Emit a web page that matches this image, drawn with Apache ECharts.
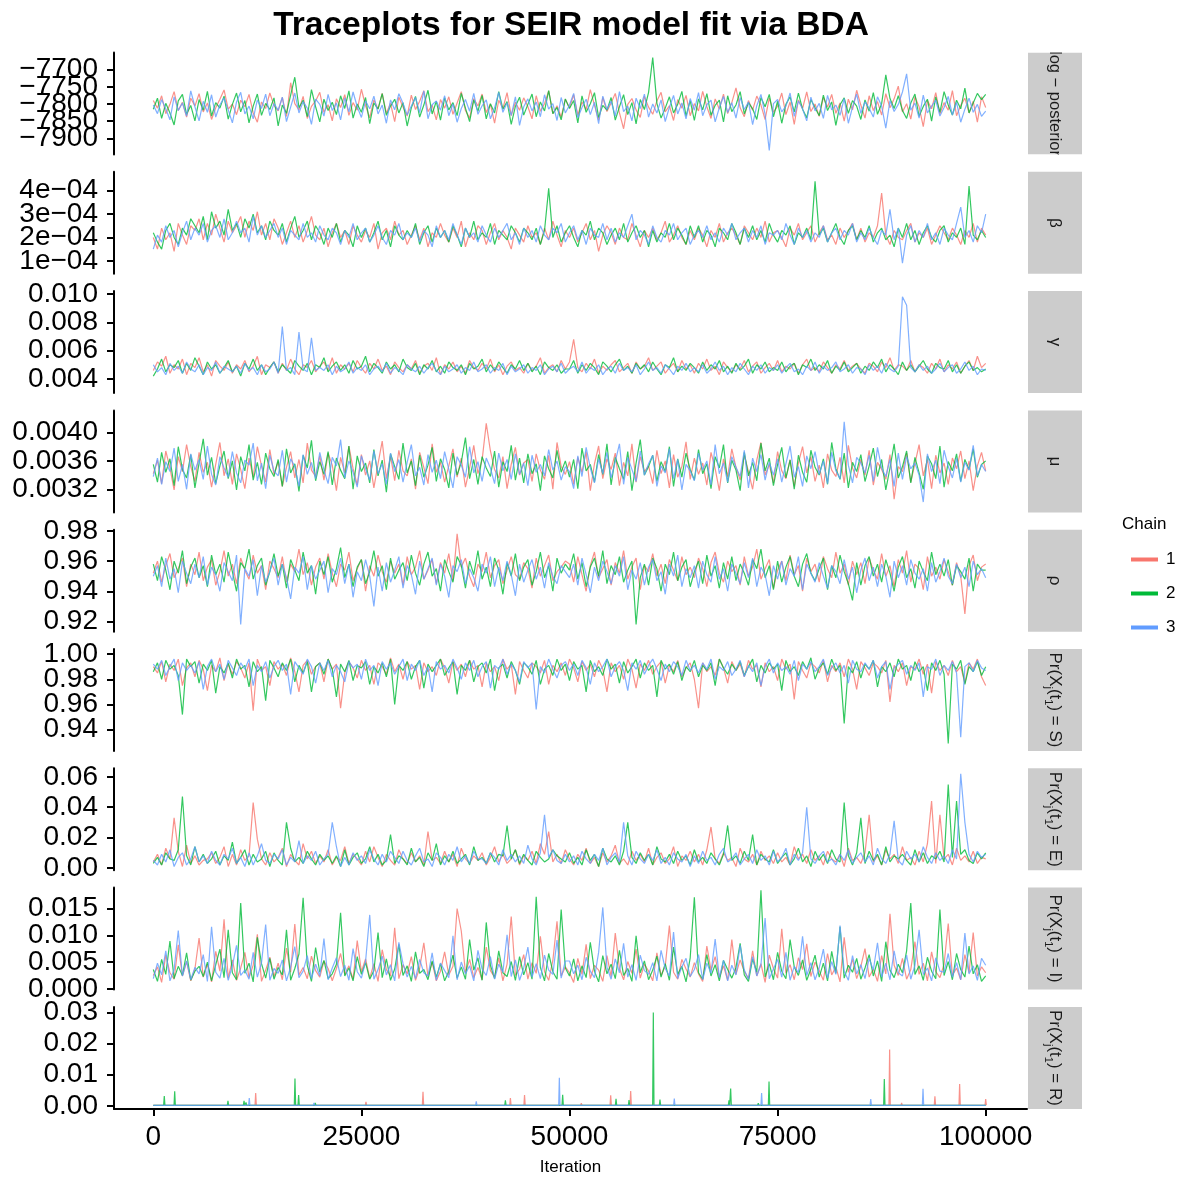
<!DOCTYPE html>
<html><head><meta charset="utf-8">
<script src="https://cdn.jsdelivr.net/npm/echarts@6/dist/echarts.min.js"></script>
<style>html,body{margin:0;padding:0;background:#fff}#c{width:1179px;height:1180px}</style>
</head><body><div id="c"></div>
<script>
// ---------- data ----------
const iterStep = 500;                // one stored draw every 500 iterations (201 draws per chain)
const xTicks = [0, 25000, 50000, 75000, 100000];
const chainNames = ['1', '2', '3'];
const chainColors = ['#F8766D', '#00BA38', '#619CFF'];

// log-posterior
const lp1 = [-7790,-7812,-7776,-7828,-7801,-7764,-7819,-7795,-7838,-7783,
-7806,-7770,-7823,-7797,-7845,-7811,-7786,-7759,-7815,-7800,
-7831,-7789,-7808,-7772,-7826,-7853,-7794,-7813,-7768,-7804,
-7820,-7781,-7836,-7738,-7799,-7817,-7778,-7842,-7807,-7791,
-7766,-7824,-7802,-7849,-7785,-7810,-7773,-7833,-7796,-7818,
-7757,-7805,-7840,-7788,-7814,-7769,-7827,-7798,-7851,-7780,
-7809,-7835,-7774,-7816,-7792,-7761,-7822,-7803,-7846,-7787,
-7812,-7779,-7830,-7797,-7764,-7819,-7841,-7784,-7806,-7771,
-7825,-7800,-7856,-7789,-7813,-7767,-7834,-7795,-7818,-7782,
-7808,-7843,-7776,-7821,-7799,-7762,-7828,-7805,-7838,-7786,
-7811,-7773,-7832,-7794,-7816,-7758,-7803,-7847,-7781,-7822,
-7797,-7769,-7826,-7872,-7801,-7784,-7817,-7839,-7778,-7809,
-7830,-7791,-7766,-7823,-7805,-7848,-7787,-7812,-7775,-7834,
-7799,-7820,-7763,-7808,-7842,-7785,-7815,-7771,-7828,-7796,
-7753,-7811,-7837,-7790,-7818,-7777,-7803,-7845,-7782,-7824,
-7806,-7768,-7831,-7794,-7859,-7788,-7813,-7765,-7822,-7800,
-7836,-7781,-7809,-7772,-7827,-7797,-7850,-7786,-7817,-7760,
-7803,-7841,-7776,-7819,-7793,-7832,-7770,-7811,-7785,-7748,
-7823,-7799,-7844,-7779,-7808,-7866,-7790,-7814,-7767,-7829,
-7796,-7818,-7761,-7834,-7804,-7783,-7826,-7792,-7853,-7779,-7810];
const lp2 = [-7815,-7783,-7842,-7798,-7826,-7861,-7791,-7772,-7830,-7804,
-7849,-7787,-7818,-7763,-7835,-7796,-7812,-7777,-7844,-7801,
-7768,-7823,-7790,-7855,-7806,-7771,-7833,-7798,-7816,-7782,
-7864,-7803,-7827,-7774,-7722,-7811,-7789,-7837,-7758,-7808,
-7852,-7786,-7819,-7795,-7831,-7776,-7813,-7762,-7841,-7800,
-7824,-7781,-7857,-7797,-7815,-7770,-7833,-7806,-7786,-7826,
-7796,-7864,-7811,-7778,-7838,-7803,-7760,-7829,-7792,-7847,
-7782,-7817,-7796,-7834,-7769,-7812,-7851,-7788,-7821,-7775,
-7843,-7799,-7826,-7764,-7815,-7793,-7859,-7807,-7780,-7832,
-7801,-7771,-7837,-7794,-7820,-7761,-7828,-7810,-7846,-7785,
-7813,-7790,-7855,-7776,-7824,-7799,-7767,-7839,-7804,-7818,
-7781,-7847,-7808,-7773,-7831,-7796,-7858,-7787,-7816,-7766,
-7665,-7798,-7841,-7812,-7779,-7826,-7801,-7763,-7835,-7790,
-7848,-7785,-7817,-7770,-7833,-7804,-7789,-7852,-7776,-7822,
-7803,-7764,-7829,-7796,-7814,-7845,-7781,-7808,-7772,-7837,
-7792,-7856,-7801,-7779,-7823,-7768,-7815,-7840,-7787,-7811,
-7834,-7774,-7819,-7794,-7862,-7802,-7782,-7827,-7790,-7806,
-7845,-7788,-7821,-7767,-7830,-7799,-7715,-7784,-7813,-7776,
-7819,-7842,-7797,-7771,-7836,-7807,-7786,-7850,-7779,-7824,
-7764,-7803,-7832,-7789,-7814,-7754,-7826,-7797,-7769,-7787,-7772];
const lp3 = [-7803,-7828,-7787,-7814,-7846,-7779,-7819,-7797,-7835,-7762,
-7808,-7849,-7792,-7824,-7773,-7838,-7802,-7783,-7817,-7855,
-7794,-7766,-7829,-7806,-7843,-7788,-7813,-7771,-7834,-7799,
-7818,-7780,-7851,-7809,-7768,-7826,-7793,-7812,-7859,-7786,
-7801,-7835,-7772,-7819,-7797,-7846,-7782,-7823,-7765,-7808,
-7839,-7791,-7814,-7777,-7829,-7803,-7856,-7788,-7817,-7770,
-7798,-7832,-7806,-7781,-7825,-7762,-7843,-7802,-7791,-7818,
-7776,-7834,-7800,-7853,-7813,-7787,-7821,-7769,-7830,-7805,
-7788,-7843,-7811,-7766,-7824,-7796,-7833,-7779,-7862,-7808,
-7785,-7820,-7794,-7837,-7773,-7815,-7799,-7848,-7781,-7826,
-7803,-7769,-7840,-7810,-7786,-7831,-7795,-7857,-7777,-7816,
-7792,-7835,-7764,-7822,-7806,-7849,-7783,-7813,-7771,-7838,
-7800,-7826,-7788,-7851,-7810,-7775,-7829,-7797,-7843,-7784,
-7818,-7767,-7834,-7802,-7789,-7852,-7811,-7778,-7825,-7796,
-7841,-7781,-7816,-7794,-7860,-7805,-7772,-7830,-7935,-7799,
-7787,-7823,-7806,-7768,-7836,-7791,-7814,-7849,-7780,-7820,
-7798,-7842,-7775,-7817,-7803,-7833,-7784,-7856,-7809,-7771,
-7827,-7794,-7812,-7838,-7779,-7806,-7870,-7790,-7822,-7801,
-7765,-7712,-7818,-7797,-7841,-7774,-7826,-7806,-7789,-7835,
-7810,-7778,-7832,-7795,-7853,-7815,-7783,-7824,-7801,-7836,-7821];

// beta, in units of 1e-5
const beta1 = [20,15,24,19,22,14,26,21,17,25, 23,28,19,26,21,30,24,18,27,22,
25,29,20,27,23,31,21,26,19,28, 24,17,22,27,20,25,18,23,29,21,
19,24,16,22,26,20,23,17,25,21, 18,23,20,26,15,22,24,19,27,21,
23,17,21,25,19,24,16,22,20,26, 21,18,24,20,27,16,22,19,25,23,
17,22,26,19,23,20,15,24,21,18, 25,20,22,17,24,19,27,21,16,23,
20,24,18,22,26,19,23,14,21,25, 22,17,24,20,19,26,21,16,23,20,
24,19,22,27,18,21,25,20,17,23, 19,24,21,16,23,20,26,18,22,24,
21,17,25,22,19,24,20,27,18,22, 23,20,16,24,21,26,19,22,25,18,
22,25,19,21,17,24,20,23,26,19, 24,18,22,20,25,39,21,17,23,20,
19,23,26,18,22,20,24,17,21,25, 22,19,24,21,17,23,20,26,18,24, 21];
const beta2 = [22,18,15,23,26,20,17,24,21,28, 25,22,29,19,31,24,27,21,32,23,
26,20,28,24,30,22,25,19,27,23, 21,26,18,24,29,20,23,27,19,25,
22,17,24,20,26,18,23,21,16,25, 20,24,18,22,27,19,23,16,25,21,
19,23,20,26,17,22,25,18,24,20, 23,18,25,21,16,24,20,27,19,22,
20,26,17,23,21,19,25,22,18,24, 22,19,24,17,23,41,20,25,18,22,
25,20,16,23,21,27,19,24,22,17, 21,24,19,26,18,22,25,20,23,16,
23,18,22,20,26,19,24,21,17,25, 20,25,18,23,21,16,24,22,19,26,
22,17,24,20,25,19,23,18,26,21, 18,23,21,25,17,22,20,24,19,44,
21,24,18,22,26,20,17,23,25,19, 23,20,25,18,22,24,19,21,16,24,
20,26,19,23,17,22,25,20,18,23, 25,18,22,20,24,17,42,21,19,23, 20];
const beta3 = [15,21,18,25,20,23,16,22,27,19, 24,21,26,18,23,25,20,28,19,22,
27,22,24,18,29,21,25,20,23,26, 20,24,17,23,21,19,26,20,22,18,
25,21,19,24,22,17,23,20,26,19, 22,24,18,21,25,20,17,23,21,26,
19,22,20,24,18,23,21,16,25,20, 23,19,26,21,17,24,20,22,18,25,
21,18,24,20,23,26,19,22,17,24, 20,23,18,25,21,19,24,22,26,18,
22,25,19,23,17,24,21,20,26,19, 24,18,22,20,25,30,19,23,21,17,
25,20,18,23,21,26,19,22,24,17, 21,23,20,25,19,22,18,24,21,26,
19,22,24,18,23,20,25,17,22,21, 23,19,26,21,17,24,20,23,18,22,
20,25,18,22,24,19,23,21,26,18, 22,19,24,20,17,23,21,32,19,24,
9,21,25,18,23,20,26,19,22,17, 24,21,19,26,33,20,23,18,25,22, 30];

// gamma, in units of 1e-4
const gamma1 = [46,52,49,56,44,50,47,54,43,51, 48,55,45,50,42,53,49,46,52,44,
50,47,53,45,49,56,43,50,48,52, 44,51,46,54,47,43,50,48,53,45,
49,52,46,55,44,50,47,51,45,53, 48,44,51,47,54,46,49,43,52,48,
45,50,47,53,44,49,51,46,55,43, 50,47,52,45,49,44,53,48,46,51,
47,54,45,50,43,49,52,46,48,44, 51,46,49,55,44,48,50,45,53,47,
52,68,48,45,51,47,54,44,49,46, 50,53,45,48,51,44,52,47,49,55,
46,49,52,44,48,51,45,53,47,50, 44,51,47,54,46,49,43,52,48,45,
50,47,53,45,49,52,44,48,51,46, 53,45,49,47,51,44,50,54,46,48,
45,52,48,44,50,47,53,46,49,51, 47,44,51,49,45,52,48,55,46,50,
49,46,53,45,50,48,44,51,47,54, 45,50,47,52,44,49,53,46,56,48, 51];
const gamma2 = [42,47,54,45,50,48,53,44,51,46, 55,49,43,52,47,50,44,48,53,45,
49,42,51,47,54,46,50,43,48,52, 45,50,47,44,53,49,46,51,43,50,
48,55,45,49,52,46,50,44,53,47, 49,56,45,51,48,44,52,47,50,45,
54,48,46,51,43,50,47,53,45,49, 44,52,48,46,50,43,51,47,49,54,
45,50,46,52,48,44,50,47,53,46, 51,45,49,43,52,48,46,50,44,47,
47,53,44,50,46,51,48,43,52,49, 45,50,54,46,49,44,51,47,50,45,
52,47,43,50,48,55,45,49,46,51, 48,44,52,46,50,47,53,45,49,44,
51,46,49,54,44,50,47,52,45,48, 46,52,45,49,51,43,50,48,54,46,
50,47,53,44,49,46,52,45,48,51, 44,49,46,52,48,54,45,50,47,43,
52,46,50,45,49,53,47,44,51,48, 47,53,45,50,44,49,52,46,48,45, 47];
const gamma3 = [50,45,48,43,51,46,49,44,52,47, 45,50,43,48,46,52,44,49,47,45,
49,44,51,46,48,43,50,45,47,52, 44,77,46,48,43,73,47,45,69,46,
48,46,50,43,49,45,47,52,44,48, 46,50,43,47,49,45,51,44,48,46,
43,50,47,45,49,44,48,51,46,43, 49,45,47,50,44,48,46,52,45,47,
50,44,48,46,51,43,49,45,47,50, 44,48,46,50,43,47,49,45,51,44,
47,49,45,52,44,48,46,50,43,47, 49,44,51,46,48,45,50,43,47,52,
46,48,44,50,47,43,49,46,51,45, 48,45,50,44,47,52,46,49,43,48,
45,51,47,43,49,46,50,44,48,46, 50,44,48,51,45,47,43,49,46,52,
44,49,46,48,52,45,47,50,44,48, 47,43,50,46,49,44,51,47,45,49,
98,92,48,45,50,46,49,44,47,51, 45,48,50,44,47,52,46,49,43,47, 46];

// mu, in units of 1e-5
const mu1 = [342,361,328,374,350,319,366,345,383,352, 331,372,344,358,323,355,386,339,363,327,
370,348,321,364,337,380,353,330,376,341, 359,324,351,373,336,362,329,385,347,338,
367,333,371,354,318,365,343,381,349,326, 369,340,360,322,356,388,335,367,332,375,
346,339,363,320,372,351,328,384,344,358, 330,353,377,337,364,323,350,382,342,361,
413,374,348,336,366,321,355,379,340,357, 362,331,370,347,334,368,320,386,352,341,
359,327,365,344,373,318,356,381,335,363, 348,371,325,358,339,384,330,366,345,353,
328,375,342,360,322,369,337,352,387,334, 364,341,357,326,372,349,318,363,338,377,
351,333,368,345,320,361,386,340,355,329, 373,346,335,362,324,357,380,343,366,331,
354,322,370,347,338,365,329,382,350,336, 362,340,375,326,358,348,334,369,306,352,
345,371,330,356,383,339,362,321,368,343, 357,327,364,349,374,335,360,318,353,372, 346];
const mu2 = [355,330,372,344,363,325,380,348,336,369, 322,357,391,340,365,328,353,374,335,360,
319,366,346,383,333,358,327,371,349,338, 362,324,377,343,356,317,368,350,389,332,
359,341,373,326,364,347,335,381,320,367, 345,357,329,376,339,361,316,370,352,334,
385,343,360,325,368,337,354,379,331,363, 348,322,371,340,358,393,335,362,327,366,
350,338,374,323,359,345,382,333,364,329, 370,342,356,318,367,349,336,375,344,360,
337,362,321,378,346,355,330,369,341,384, 326,365,349,334,373,318,357,390,340,352,
368,331,359,345,380,324,363,337,371,348, 333,376,342,356,321,366,350,383,329,361,
347,318,372,339,358,332,385,346,364,325, 355,379,336,361,320,368,344,330,375,351,
340,363,327,386,349,334,371,322,358,345, 369,331,353,378,338,362,319,350,384,336,
352,374,329,365,343,320,367,356,335,381, 323,359,346,370,331,362,348,377,337,355, 360];
const mu3 = [338,364,327,359,345,378,331,355,320,370, 347,362,334,381,341,326,366,350,337,373,
343,329,361,354,385,332,357,321,368,346, 339,375,330,363,352,324,369,341,358,335,
372,347,328,365,353,390,336,360,344,323, 367,349,333,374,342,356,327,371,345,362,
330,358,383,339,351,326,369,344,361,335, 373,348,322,366,354,337,380,343,359,331,
364,350,328,371,346,362,334,370,341,357, 325,368,344,355,339,376,347,360,333,352,
345,321,367,338,379,350,329,363,342,372, 336,359,384,327,365,348,331,374,340,356,
368,324,353,343,377,335,362,319,355,346, 332,371,347,360,326,383,342,357,330,366,
351,338,375,322,364,345,369,333,358,340, 363,330,356,381,337,352,324,367,349,373,
341,360,328,372,346,335,415,354,329,365, 357,343,368,331,379,350,338,362,324,371,
334,366,349,357,340,302,370,345,361,328, 375,352,336,364,330,358,347,382,339,355, 345];

// rho, in units of 1e-3
const rho1 = [952,960,946,957,965,949,955,962,943,958, 951,966,947,956,961,944,953,967,950,958,
945,962,954,948,964,952,957,941,960,955, 949,963,946,958,953,968,951,959,944,956,
962,948,965,952,943,958,954,966,947,955, 961,940,957,950,964,953,946,960,952,958,
944,963,951,956,967,948,954,961,945,959, 952,965,947,978,956,962,950,943,958,953,
966,949,957,961,945,954,963,951,948,959, 955,942,962,950,957,964,947,953,956,960,
958,946,963,951,940,957,966,949,955,961, 944,959,952,967,948,956,962,941,957,953,
965,950,958,945,961,954,947,963,951,956, 949,962,955,943,959,966,952,946,960,953,
957,944,963,950,956,968,948,955,961,942, 954,960,947,964,951,957,940,962,953,958,
946,963,955,949,966,952,958,944,960,951, 959,945,962,954,948,965,950,957,943,961,
952,967,946,958,955,941,963,950,956,948, 961,953,944,959,950,925,957,964,947,956, 958];
const rho2 = [958,947,963,954,941,960,952,967,945,956, 962,949,957,943,964,951,958,946,966,953,
940,959,955,968,948,957,962,944,953,965, 950,958,942,961,954,947,966,952,957,938,
960,951,963,946,955,969,949,958,943,956, 961,945,953,967,950,957,941,962,948,954,
959,947,964,952,944,958,966,950,955,940, 961,953,946,963,957,942,960,951,967,948,
956,943,962,954,938,959,950,965,947,956, 961,944,953,966,949,957,940,962,952,958,
954,965,948,959,943,956,962,950,967,945, 957,951,963,946,954,960,918,949,958,944,
962,955,940,958,951,966,947,956,961,943, 953,960,945,964,950,957,942,959,948,963,
947,958,952,944,961,955,968,949,957,941, 960,946,956,963,950,943,958,965,952,947,
955,962,941,957,949,964,953,945,934,959, 944,957,963,950,958,946,961,952,940,956,
963,949,955,942,960,953,947,966,951,958, 950,961,944,957,953,948,962,940,958,954, 954];
const rho3 = [950,957,943,962,948,955,939,960,952,945, 958,949,963,944,956,951,940,959,953,947,
964,918,955,950,961,937,957,946,953,962, 944,958,949,935,956,952,963,941,957,948,
954,960,939,955,951,962,945,958,936,953, 947,961,950,930,956,940,959,946,954,963,
942,957,951,938,960,948,955,962,944,958, 950,936,957,953,961,945,955,949,940,958,
952,963,943,956,947,960,951,937,958,946, 954,961,948,956,942,959,950,945,957,953,
949,958,944,962,951,939,956,947,960,953, 945,957,950,963,941,954,948,959,944,956,
961,947,953,938,958,950,964,943,955,949, 957,942,960,951,946,963,948,955,940,958,
952,945,959,949,962,943,956,951,937,957, 948,960,944,955,950,963,941,958,952,946,
959,950,942,957,953,945,961,948,956,939, 954,962,947,956,943,958,950,936,960,949,
957,944,961,952,948,955,940,959,946,953, 962,950,945,958,949,956,943,960,951,955, 949];

// Pr(X_j(t_1) = S), in units of 1e-3
const prS1 = [990,985,994,978,992,987,996,975,989,993, 982,995,988,971,991,986,997,979,992,984,
994,989,981,993,955,996,987,990,975,994, 988,992,983,997,986,970,991,995,984,990,
993,978,996,988,992,957,985,994,989,981, 995,987,991,976,993,990,984,997,986,992,
980,994,988,991,972,993,986,990,983,996, 989,977,994,987,992,982,995,988,991,974,
993,986,990,979,996,988,992,968,994,987, 981,993,990,985,995,976,991,986,993,983,
996,989,978,994,987,992,982,995,988,970, 993,986,991,980,996,988,973,992,987,995,
984,990,994,977,991,986,995,982,989,993, 980,957,993,986,990,983,996,989,977,994,
987,992,982,995,988,991,974,993,986,990, 979,996,988,992,964,994,987,981,993,990,
985,995,978,991,986,993,982,996,988,972, 994,989,983,993,990,985,995,962,991,986,
993,975,990,988,996,984,992,969,994,987, 991,983,995,986,990,977,993,988,996,982, 975];
const prS2 = [986,993,980,995,988,991,983,952,996,990, 994,977,992,987,995,969,990,985,993,981,
996,988,991,974,994,986,990,963,995,989, 982,993,987,996,978,991,985,994,970,990,
993,984,996,988,966,992,986,995,979,991, 989,994,976,990,985,993,982,996,960,991,
987,994,980,990,995,973,992,986,991,996, 983,989,994,968,991,987,995,978,990,993,
985,996,971,989,992,981,994,987,976,993, 990,984,995,976,988,991,983,996,987,992,
979,994,988,991,970,995,986,990,983,996, 988,992,977,994,985,990,996,981,993,987,
991,966,995,988,992,984,994,979,990,986, 995,982,991,987,993,975,996,989,984,992,
987,994,983,990,996,978,991,985,993,988, 992,971,995,986,990,983,994,988,997,980,
989,993,984,996,987,991,945,990,985,994, 981,992,988,995,974,990,986,993,982,996,
988,991,979,994,986,990,971,993,987,995, 984,929,992,988,995,976,990,986,994,983, 990];
const prS3 = [992,988,995,983,990,996,979,993,987,991, 985,994,972,990,996,986,992,980,995,989,
983,993,988,996,975,991,986,994,981,990, 995,987,992,968,994,989,984,996,990,977,
993,987,995,982,991,986,978,994,989,992, 980,996,987,991,975,994,988,993,984,990,
996,979,992,987,995,983,990,970,994,988, 991,985,996,989,980,993,987,995,982,990,
994,973,991,988,996,984,992,987,978,994, 989,993,956,990,985,996,988,981,991,994,
987,992,983,995,989,976,993,986,990,996, 982,990,994,987,971,993,988,995,984,991,
996,988,979,992,986,994,990,983,995,987, 991,985,993,988,996,980,990,987,994,983,
988,995,982,991,986,993,975,990,996,985, 993,987,990,984,995,979,992,988,994,986,
990,996,983,989,993,985,991,977,995,988, 986,993,988,995,981,990,994,972,989,992,
995,984,991,987,993,966,990,988,996,983, 991,987,994,985,934,990,993,986,995,989, 987];

// Pr(X_j(t_1) = E), in units of 1e-3
const prE1 = [4,9,2,13,6,33,11,1,15,3, 8,2,5,6,10,3,7,14,1,9, 2,12,5,8,43,19,6,2,10,4,
7,13,1,9,5,2,16,6,11,3, 8,4,12,2,7,5,14,3,9,6, 2,11,4,14,7,1,9,5,2,12,
6,3,10,4,8,2,24,5,7,3, 11,4,9,1,13,6,3,8,5,10, 2,7,14,4,9,3,6,12,2,8,
5,11,3,16,9,24,4,9,3,12, 6,2,9,5,13,3,7,1,10,4, 8,15,3,6,2,11,5,9,4,13,
2,7,10,3,6,14,1,8,5,11, 4,9,2,12,27,6,3,10,5,7, 1,13,6,4,9,2,11,5,8,3,
10,4,7,2,14,6,9,3,12,5, 8,2,11,6,4,9,1,13,5,7, 3,10,35,4,8,2,12,6,9,3,
14,5,7,2,11,4,16,44,3,35, 6,9,2,13,5,8,4,11,3,7, 6];
const prE2 = [3,7,2,10,6,5,12,47,8,2, 14,4,9,3,6,11,2,8,5,17, 3,7,12,2,9,4,6,11,1,10,
5,2,30,13,4,7,3,11,6,2, 9,5,8,3,8,1,12,2,7,10, 3,6,14,4,9,2,5,22,3,8,
6,2,13,4,7,1,10,5,16,2, 8,4,11,3,6,9,2,14,5,7, 3,10,4,9,8,28,6,12,3,9,
5,2,11,7,4,6,12,8,6,4, 10,3,7,2,12,5,9,1,13,6, 4,8,2,11,30,7,3,10,5,9,
2,14,6,4,9,3,11,5,8,2, 12,4,7,3,10,6,2,9,28,5, 8,3,11,5,22,2,9,6,4,12,
3,7,10,2,6,13,4,8,1,11, 5,9,3,12,6,4,43,8,2,10, 33,3,11,5,9,2,14,4,8,6,
9,5,2,12,4,10,3,8,6,11, 4,55,7,44,9,12,5,3,10,6, 10];
const prE3 = [5,2,9,4,12,1,7,10,2,6, 14,4,8,3,11,5,2,9,6,13, 3,7,1,10,2,8,16,5,3,9,
6,12,2,7,4,18,3,8,5,11, 2,6,9,30,14,1,7,2,10,5, 8,3,12,6,2,9,4,11,7,3,
11,5,2,8,13,4,6,1,10,7, 2,9,5,14,4,8,3,11,6,6, 3,10,7,2,12,5,9,4,8,3,
15,6,2,10,35,7,12,5,3,9, 4,8,2,11,6,3,9,5,13,2, 7,10,4,30,8,2,11,6,3,9,
5,12,3,7,2,10,6,4,9,1, 8,3,11,5,7,2,9,13,4,6, 10,2,6,9,3,12,5,8,2,11,
4,7,13,2,9,5,10,40,6,3, 8,11,4,6,2,9,5,12,3,7, 10,4,8,2,13,6,3,9,31,5,
2,11,6,9,4,14,7,3,10,5, 8,3,12,6,62,30,9,4,11,7, 9];

// Pr(X_j(t_1) = I), in units of 1e-4
const prI1 = [25,41,12,63,30,18,82,24,51,15, 37,95,22,46,13,70,33,130,20,54,
16,39,68,21,44,102,14,35,59,23, 48,17,76,31,121,26,40,19,61,34,
22,52,38,15,38,66,27,43,18,90, 32,56,20,47,14,73,36,24,114,19,
45,28,60,16,39,86,23,50,15,33, 69,26,42,150,108,30,55,21,40,17,
78,34,22,58,15,46,135,25,37,64, 18,49,29,98,32,16,53,126,24,41,
30,12,57,27,83,19,44,35,14,62, 23,104,38,17,51,29,74,20,46,33,
15,67,25,42,118,31,18,55,37,22, 49,28,14,80,35,60,21,43,16,92,
27,54,33,19,71,24,47,12,63,38, 20,112,29,45,17,58,36,84,23,50,
34,16,66,26,41,13,96,31,55,19, 42,75,22,37,14,62,28,140,44,25,
57,18,36,88,27,48,15,69,32,21, 46,122,25,39,17,64,30,105,24,41, 30];
const prI2 = [36,14,55,27,89,19,42,25,67,16, 33,42,23,50,15,45,74,21,110,30,
17,160,29,48,13,96,47,20,57,18, 40,26,110,16,38,65,170,44,14,77,
31,53,19,28,46,142,24,39,15,60, 27,49,18,34,105,21,56,16,37,83,
25,43,14,69,29,36,17,52,22,47, 15,33,63,20,41,18,92,35,58,16,
124,44,19,71,30,23,51,16,60,26, 49,18,172,40,15,66,32,18,148,39,
24,56,15,43,21,87,33,13,62,28, 46,19,72,25,38,14,99,30,52,17,
35,61,22,47,16,78,27,42,13,58, 171,30,18,64,24,45,15,53,36,20,
40,85,26,14,56,31,184,22,47,17, 68,33,19,92,41,25,54,16,37,63,
22,48,15,70,29,116,20,44,31,57, 18,39,64,24,52,14,88,35,21,46,
30,71,160,27,43,16,59,33,19,148, 25,51,17,66,36,22,80,28,45,14, 24];
const prI3 = [19,48,26,71,15,36,109,24,52,17, 40,28,64,14,116,31,20,57,16,43,
81,25,35,18,68,22,49,120,16,38, 29,54,15,41,79,21,33,62,19,46,
24,94,17,39,58,23,44,16,75,32, 20,51,138,18,36,61,26,45,15,87,
47,22,42,19,55,30,24,67,16,48, 34,21,99,17,50,28,43,15,72,37,
25,60,18,46,31,101,23,54,16,39, 78,22,47,19,63,35,27,91,20,52,
52,28,44,17,59,33,21,68,152,40, 18,56,30,85,22,45,16,63,34,27,
49,15,72,38,24,106,19,41,57,23, 36,64,17,48,29,93,21,53,15,44,
26,81,35,18,60,24,45,132,19,37, 55,22,68,16,42,30,98,25,49,17,
39,74,20,51,27,118,33,16,62,28, 45,19,57,35,86,22,48,17,71,30,
24,63,18,44,110,27,39,15,58,33, 31,66,22,49,17,104,28,43,16,57, 44];

// Pr(X_j(t_1) = R): nearly always at the base level, with isolated spikes [iteration, value]
const prRBase = 0.0002;
const prRSpikes1 = [[12300,0.0041],[15860,0.0003],[21230,0.0003],[23030,0.0003],[25550,0.0013],
[32400,0.0045],[42900,0.0025],[44600,0.0035],[51420,0.0009],[54950,0.0034],[57350,0.0048],
[68080,0.0003],[77970,0.0006],[78600,0.0003],[88460,0.0181],[89900,0.0010],[93900,0.0031],
[96870,0.0070],[100000,0.0022]];
const prRSpikes2 = [[1320,0.0032],[2570,0.0047],[8650,0.0008],[8970,0.0016],[10900,0.0016],
[11140,0.0011],[15140,0.0007],[17020,0.0088],[17460,0.0035],[19460,0.0010],[28950,0.0004],
[42300,0.0018],[49180,0.0036],[52190,0.0003],[55590,0.0023],[57150,0.0019],[59190,0.0003],
[60070,0.0300],[60870,0.0020],[67600,0.0003],[69160,0.0018],[69360,0.0056],[72000,0.0004],
[72680,0.0009],[73970,0.0078],[80890,0.0004],[82100,0.0008],[87820,0.0086],[95590,0.0004]];
const prRSpikes3 = [[4410,0.0003],[5810,0.0002],[9410,0.0003],[11530,0.0025],[13100,0.0003],
[16500,0.0003],[19300,0.0010],[24230,0.0003],[34500,0.0005],[38800,0.0015],[48780,0.0090],
[52980,0.0003],[62590,0.0024],[66760,0.0007],[73080,0.0041],[86190,0.0022],[92470,0.0055],
[96510,0.0003]];

// y-axis ticks and their labels
const lpTicks = [-7900,-7850,-7800,-7750,-7700];
const lpLabels = ['\u22127900','\u22127850','\u22127800','\u22127750','\u22127700'];
const betaTicks = [1e-4,2e-4,3e-4,4e-4];
const betaLabels = ['1e\u221204','2e\u221204','3e\u221204','4e\u221204'];
const gammaTicks = [0.004,0.006,0.008,0.010];
const gammaLabels = ['0.004','0.006','0.008','0.010'];
const muTicks = [0.0032,0.0036,0.0040];
const muLabels = ['0.0032','0.0036','0.0040'];
const rhoTicks = [0.92,0.94,0.96,0.98];
const rhoLabels = ['0.92','0.94','0.96','0.98'];
const sTicks = [0.94,0.96,0.98,1.00];
const sLabels = ['0.94','0.96','0.98','1.00'];
const eTicks = [0,0.02,0.04,0.06];
const eLabels = ['0.00','0.02','0.04','0.06'];
const iTicks = [0,0.005,0.010,0.015];
const iLabels = ['0.000','0.005','0.010','0.015'];
const rTicks = [0,0.01,0.02,0.03];
const rLabels = ['0.00','0.01','0.02','0.03'];

const stripLabels = ['log \u2212 posterior','\u03b2','\u03b3','\u03bc','\u03c1',
  'Pr(X{s|j}(t{s|1}) = S)','Pr(X{s|j}(t{s|1}) = E)','Pr(X{s|j}(t{s|1}) = I)','Pr(X{s|j}(t{s|1}) = R)'];

// ---------- build ----------
const FONT = '"Liberation Sans", Arial, Helvetica, sans-serif';
const panels = [
  {chains:[lp1,lp2,lp3], unit:1, min:-7947, max:-7650, ticks:lpTicks, labels:lpLabels},
  {chains:[beta1,beta2,beta3], unit:1e-5, min:4.44e-5, max:4.81e-4, ticks:betaTicks, labels:betaLabels},
  {chains:[gamma1,gamma2,gamma3], unit:1e-4, min:0.0030, max:0.0102, ticks:gammaTicks, labels:gammaLabels},
  {chains:[mu1,mu2,mu3], unit:1e-5, min:0.002874, max:0.004312, ticks:muTicks, labels:muLabels},
  {chains:[rho1,rho2,rho3], unit:1e-3, min:0.9132, max:0.9808, ticks:rhoTicks, labels:rhoLabels},
  {chains:[prS1,prS2,prS3], unit:1e-3, min:0.9231, max:1.004, ticks:sTicks, labels:sLabels},
  {chains:[prE1,prE2,prE3], unit:1e-3, min:-0.0015, max:0.0656, ticks:eTicks, labels:eLabels},
  {chains:[prI1,prI2,prI3], unit:1e-4, min:-0.00014, max:0.0189, ticks:iTicks, labels:iLabels},
  {spikes:[prRSpikes1,prRSpikes2,prRSpikes3], unit:1, min:-0.00096, max:0.0318, ticks:rTicks, labels:rLabels}
];

function traceData(vals, unit) { return vals.map((v, i) => [i * iterStep, v * unit]); }
function spikeData(sp, base) {
  const out = [[0, base]];
  sp.forEach(([it, v]) => { out.push([it - 80, base], [it, v], [it + 80, base]); });
  if (sp[sp.length - 1][0] < 99900) out.push([100000, base]);
  return out;
}

const L = 114, W = 913, TOP0 = 52.5, STEP = 119.3, H = 102;
const XMIN = -4721, XMAX = 104962;
const grids = [], xAxes = [], yAxes = [], series = [], graphics = [];

panels.forEach((p, k) => {
  const top = TOP0 + STEP * k;
  const last = k === panels.length - 1;
  grids.push({left: L, top: top, width: W, height: H, outerBoundsMode: 'none'});
  const fmt = (v) => {
    const idx = p.ticks.findIndex(t => Math.abs(t - v) <= Math.abs(t) * 1e-9 + 1e-15);
    return idx >= 0 ? p.labels[idx] : '';
  };
  // labels split over two coincident axes (alternate ticks) so that the
  // tightly packed labels are all kept, as in the reference
  const evenTicks = p.ticks.filter((t, i) => i % 2 === 0);
  const oddTicks = p.ticks.filter((t, i) => i % 2 === 1);
  const labelStyle = {formatter: fmt, fontSize: 28, color: '#000', margin: 16, fontFamily: FONT,
    showMinLabel: true, showMaxLabel: true, hideOverlap: false};
  yAxes.push({
    type: 'value', gridIndex: k, min: p.min, max: p.max, position: 'left',
    axisLine: {show: true, onZero: false, lineStyle: {color: '#000', width: 2}},
    axisTick: {show: true, length: 7, lineStyle: {color: '#000', width: 2}, customValues: p.ticks},
    axisLabel: Object.assign({customValues: evenTicks}, labelStyle),
    splitLine: {show: false}
  });
  yAxes.push({
    type: 'value', gridIndex: k, min: p.min, max: p.max, position: 'left', offset: 0,
    axisLine: {show: false, onZero: false}, axisTick: {show: false},
    axisLabel: Object.assign({customValues: oddTicks}, labelStyle),
    splitLine: {show: false}
  });
  if (!last) {
    xAxes.push({type: 'value', gridIndex: k, min: XMIN, max: XMAX, show: false});
  } else {
    xAxes.push({
      type: 'value', gridIndex: k, min: XMIN, max: XMAX,
      axisLine: {show: true, onZero: false, lineStyle: {color: '#000', width: 2}},
      axisTick: {show: true, length: 7, lineStyle: {color: '#000', width: 2}, customValues: xTicks},
      axisLabel: {customValues: xTicks, formatter: (v) => String(v), fontSize: 28, color: '#000', margin: 14,
        fontFamily: FONT, showMinLabel: true, showMaxLabel: true},
      splitLine: {show: false},
      name: 'Iteration', nameLocation: 'middle', nameGap: 50,
      nameTextStyle: {fontSize: 17, color: '#000', fontFamily: FONT}
    });
  }
  for (let c = 0; c < 3; c++) {
    const data = p.spikes ? spikeData(p.spikes[c], prRBase) : traceData(p.chains[c], p.unit);
    series.push({
      type: 'line', name: chainNames[c], xAxisIndex: k, yAxisIndex: 2 * k, data: data,
      showSymbol: false, symbol: 'none', color: chainColors[c],
      lineStyle: {width: 1.2, color: chainColors[c], opacity: 0.8},
      silent: true, animation: false, emphasis: {disabled: true}
    });
  }
  // facet strip
  graphics.push({type: 'rect', silent: true, z: 1,
    shape: {x: 1028, y: top, width: 54, height: H}, style: {fill: '#cccccc'}});
  graphics.push({type: 'text', silent: true, z: 2, x: 1055, y: top + H / 2, rotation: -Math.PI / 2,
    style: {text: stripLabels[k], fontSize: k === 0 ? 16.5 : 17, lineHeight: 24, fontFamily: FONT, fill: '#1a1a1a',
      align: 'center', verticalAlign: 'middle',
      rich: {s: {fontSize: 11, lineHeight: 13, verticalAlign: 'bottom', fontFamily: FONT, fill: '#1a1a1a'}}}});
});
// white masks clipping the overflowing first strip label
graphics.push({type: 'rect', silent: true, z: 3, shape: {x: 1028, y: TOP0 - 9, width: 54, height: 9}, style: {fill: '#fff'}});
graphics.push({type: 'rect', silent: true, z: 3, shape: {x: 1028, y: TOP0 + H, width: 54, height: 12}, style: {fill: '#fff'}});
// legend title
graphics.push({type: 'text', silent: true, x: 1122, y: 524,
  style: {text: 'Chain', fontSize: 17, fontFamily: FONT, fill: '#000', align: 'left', verticalAlign: 'middle'}});

const chart = echarts.init(document.getElementById('c'), null, {renderer: 'canvas'});
chart.setOption({
  backgroundColor: '#fff',
  animation: false,
  title: {text: 'Traceplots for SEIR model fit via BDA', left: 566, top: 4, textAlign: 'center',
    textStyle: {fontSize: 33.5, fontWeight: 'bold', color: '#000', fontFamily: FONT}},
  legend: {data: chainNames, orient: 'vertical', left: 1126, top: 546, itemWidth: 27, itemHeight: 4,
    itemGap: 17, icon: 'rect', selectedMode: false,
    textStyle: {fontSize: 17, color: '#000', fontFamily: FONT, padding: [0, 0, 0, 3]}},
  grid: grids, xAxis: xAxes, yAxis: yAxes, series: series, graphic: graphics
});
</script></body></html>
